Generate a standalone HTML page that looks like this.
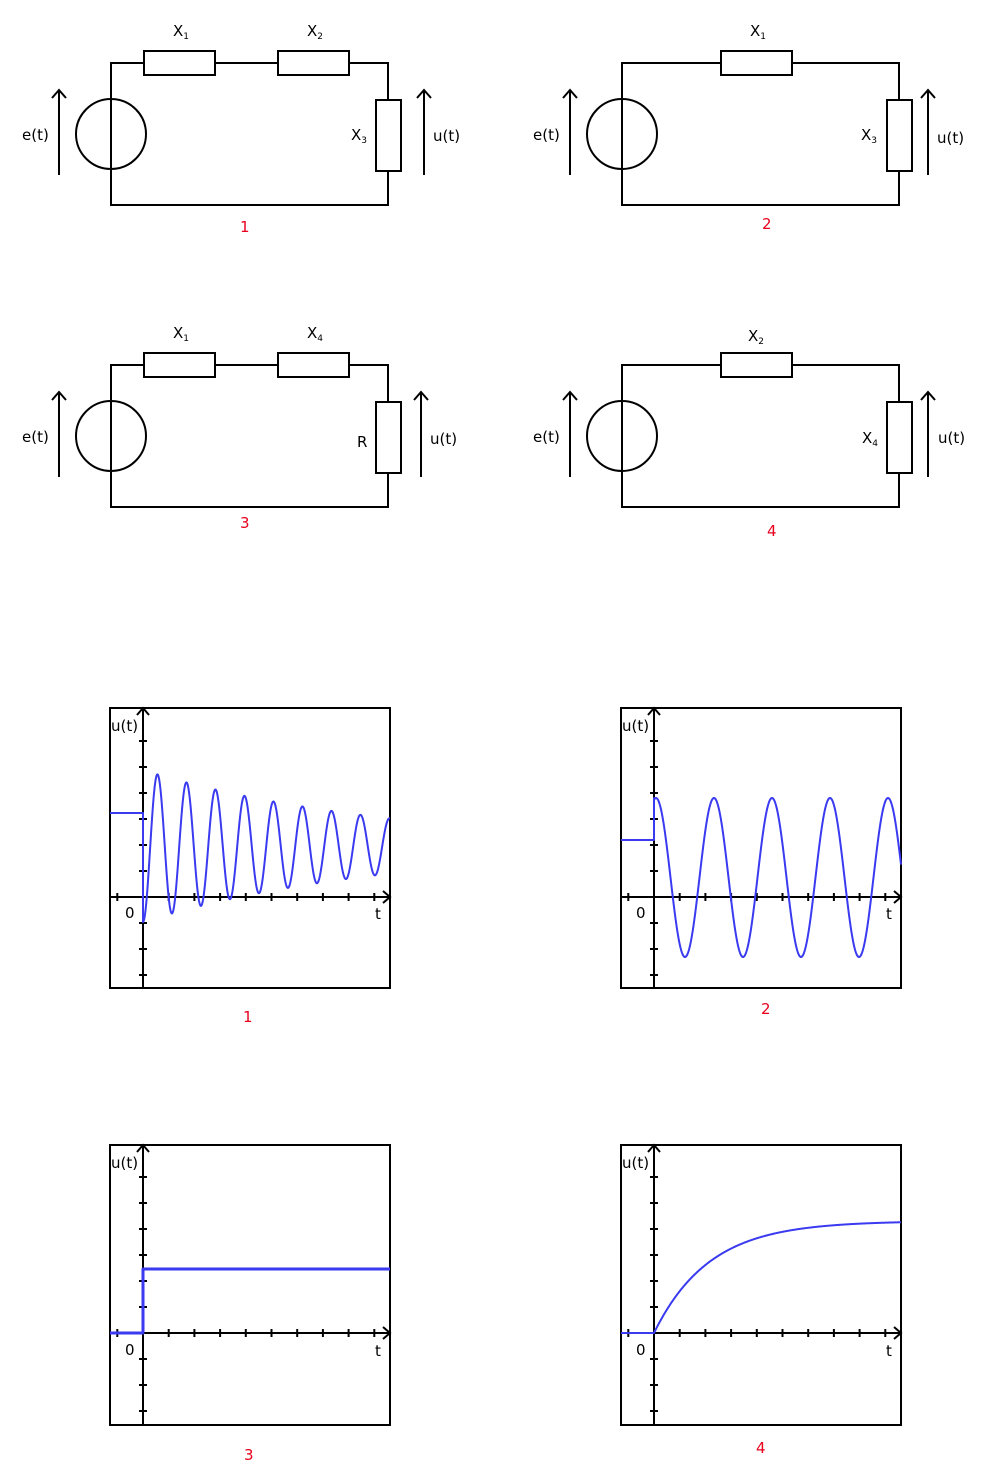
<!DOCTYPE html>
<html><head><meta charset="utf-8"><style>
html,body{margin:0;padding:0;background:#fff;}
svg{display:block;font-family:"DejaVu Sans","Liberation Sans",sans-serif;}
.w{stroke:#000;stroke-width:2;fill:none;}
.t{font-size:15px;fill:#000;}
.r{font-size:15px;fill:#e8001c;}
.s{font-size:9px;}
</style></head><body>
<svg id="s" width="1000" height="1480" viewBox="0 0 1000 1480" xmlns="http://www.w3.org/2000/svg">
<g id="circ"></g>
<g id="plots"></g>
<text class="t" x="173" y="36">X<tspan class="s" dy="3">1</tspan></text>
<text class="t" x="307" y="36">X<tspan class="s" dy="3">2</tspan></text>
<text class="t" x="351" y="140">X<tspan class="s" dy="3">3</tspan></text>
<text class="t" x="22" y="140">e(t)</text>
<text class="t" x="433" y="141">u(t)</text>
<text class="r" x="240" y="232">1</text>

<text class="t" x="750" y="36">X<tspan class="s" dy="3">1</tspan></text>
<text class="t" x="861" y="140">X<tspan class="s" dy="3">3</tspan></text>
<text class="t" x="533" y="140">e(t)</text>
<text class="t" x="937" y="143">u(t)</text>
<text class="r" x="762" y="229">2</text>

<text class="t" x="173" y="338">X<tspan class="s" dy="3">1</tspan></text>
<text class="t" x="307" y="338">X<tspan class="s" dy="3">4</tspan></text>
<text class="t" x="357" y="447">R</text>
<text class="t" x="22" y="442">e(t)</text>
<text class="t" x="430" y="444">u(t)</text>
<text class="r" x="240" y="528">3</text>

<text class="t" x="748" y="341">X<tspan class="s" dy="3">2</tspan></text>
<text class="t" x="862" y="443">X<tspan class="s" dy="3">4</tspan></text>
<text class="t" x="533" y="442">e(t)</text>
<text class="t" x="938" y="443">u(t)</text>
<text class="r" x="767" y="536">4</text>

<text class="t" x="111" y="731">u(t)</text><text class="t" x="125" y="918">0</text><text class="t" x="375" y="919">t</text>
<text class="r" x="243" y="1022">1</text>
<text class="t" x="622" y="731">u(t)</text><text class="t" x="636" y="918">0</text><text class="t" x="886" y="919">t</text>
<text class="r" x="761" y="1014">2</text>
<text class="t" x="111" y="1168">u(t)</text><text class="t" x="125" y="1355">0</text><text class="t" x="375" y="1356">t</text>
<text class="r" x="244" y="1460">3</text>
<text class="t" x="622" y="1168">u(t)</text><text class="t" x="636" y="1355">0</text><text class="t" x="886" y="1356">t</text>
<text class="r" x="756" y="1453">4</text>
</svg>
<script>
var NS="http://www.w3.org/2000/svg";
function el(p,tag,a){var e=document.createElementNS(NS,tag);for(var k in a)e.setAttribute(k,a[k]);p.appendChild(e);return e;}
var C=document.getElementById('circ');
function circuit(L,R,T,B,res,vr,ea,ua,ay1,ay2){
  var d="M"+L+" "+T+" H"+R+" V"+B+" H"+L+" Z";
  el(C,'path',{d:d,class:'w'});
  res.forEach(function(x){el(C,'rect',{x:x[0],y:T-12,width:x[1]-x[0],height:24,fill:'#fff',stroke:'#000','stroke-width':2});});
  el(C,'rect',{x:R-12,y:vr[0],width:25,height:vr[1]-vr[0],fill:'#fff',stroke:'#000','stroke-width':2});
  el(C,'circle',{cx:L,cy:(T+B)/2,r:35,fill:'none',stroke:'#000','stroke-width':2});
  [ea,ua].forEach(function(x){
    el(C,'path',{d:"M"+x+" "+ay2+" V"+ay1+" M"+(x-7)+" "+(ay1+8)+" L"+x+" "+ay1+" L"+(x+7)+" "+(ay1+8),class:'w'});
  });
}
circuit(111,388,63,205,[[144,215],[278,349]],[100,171],59,424,90,175);
circuit(622,899,63,205,[[721,792]],[100,171],570,928,90,175);
circuit(111,388,365,507,[[144,215],[278,349]],[402,473],59,421,392,477);
circuit(622,899,365,507,[[721,792]],[402,473],570,928,392,477);

var P=document.getElementById('plots');
function plot(bx,by,ax,axy,curve,sw){
  el(P,'rect',{x:bx,y:by,width:280,height:280,fill:'none',stroke:'#000','stroke-width':2});
  var d="M"+ax+" "+(by+280)+" V"+by+" M"+(ax-6)+" "+(by+7)+" L"+ax+" "+by+" L"+(ax+6)+" "+(by+7);
  d+=" M"+bx+" "+axy+" H"+(bx+280)+" M"+(bx+273)+" "+(axy-6)+" L"+(bx+280)+" "+axy+" L"+(bx+273)+" "+(axy+6);
  for(var i=-4;i<=10;i++){var yy=axy-26*i; if(i!==0&&yy>by+15&&yy<by+275)d+=" M"+(ax-4)+" "+yy+" H"+(ax+4);}
  for(var i=-1;i<=9;i++){var xx=ax+25.7*i; if(i!==0)d+=" M"+xx+" "+(axy-4)+" V"+(axy+4);}
  el(P,'path',{d:d,class:'w'});
  el(P,'path',{d:curve,fill:'none',stroke:'#3a3af0','stroke-width':sw||2,'stroke-linejoin':'round'});
}
var d="M110 813 H143 V922";
for(var x=143;x<=390;x+=0.5){var t=x-143;d+=" L"+x+" "+(846+76*Math.exp(-t/244)*Math.cos(2*Math.PI*t/29)).toFixed(2);}
plot(110,708,143,897,d);
d="M621 840 H654 V798";
for(var x=654;x<=901;x+=0.5){d+=" L"+x+" "+(877.5-79.5*Math.cos(2*Math.PI*(x-656)/58)).toFixed(2);}
plot(621,708,654,897,d);
plot(110,1145,143,1333,"M110 1333 H143 V1269 H390",3);
d="M621 1333 H654";
for(var x=654;x<=901;x+=0.5){d+=" L"+x+" "+(1333-112*(1-Math.exp(-(x-654)/55))).toFixed(2);}
plot(621,1145,654,1333,d);
</script>
</body></html>
